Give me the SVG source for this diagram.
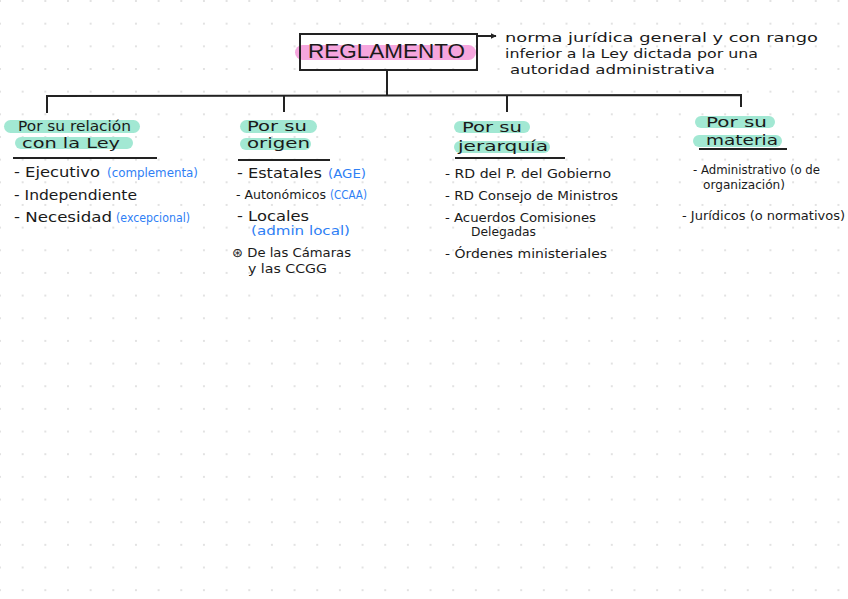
<svg xmlns="http://www.w3.org/2000/svg" width="848" height="599" viewBox="0 0 848 599">
<defs>
<pattern id="dots" x="0" y="1" width="22.66" height="22.66" patternUnits="userSpaceOnUse">
<circle cx="0" cy="0" r="1" fill="#d9d9d9"/>
<circle cx="22.66" cy="0" r="1" fill="#d9d9d9"/>
<circle cx="0" cy="22.66" r="1" fill="#d9d9d9"/>
<circle cx="22.66" cy="22.66" r="1" fill="#d9d9d9"/>
</pattern>
<marker id="arr" viewBox="0 0 10 10" refX="9" refY="5" markerWidth="6" markerHeight="6" orient="auto" markerUnits="userSpaceOnUse">
<path d="M0,0 L10,5 L0,10 z" fill="#222"/>
</marker>
<style>
text{font-family:"DejaVu Sans","Liberation Sans",sans-serif;fill:#1a1a1a}
.t{font-size:21px;font-family:"Liberation Sans",Arial,sans-serif}
.n{font-size:13px}
.h{font-size:14px}
.i{font-size:14px}
.s{font-size:12.5px}
.b{fill:#2f80f5}
.hl{fill:#a2e8d3}
.ln{stroke:#222;stroke-width:2;fill:none}
</style>
</defs>
<rect width="848" height="599" fill="#ffffff"/>
<rect width="848" height="599" fill="url(#dots)"/>

<g id="connectors">
<line class="ln" x1="387" y1="70" x2="387" y2="95"/>
<polyline class="ln" points="47,113 47,96 741,95 741,107"/>
<line class="ln" x1="284" y1="95" x2="284" y2="112"/>
<line class="ln" x1="507" y1="95" x2="507" y2="112"/>
<line class="ln" x1="477" y1="36" x2="496" y2="36" marker-end="url(#arr)"/>
</g>

<g id="reglamento">
<rect x="295" y="45" width="181" height="15" rx="7.5" fill="#f6a6de"/>
<rect x="300" y="34" width="177" height="36" fill="none" stroke="#222" stroke-width="2"/>
<text class="t" x="308" y="58" textLength="157" lengthAdjust="spacingAndGlyphs">REGLAMENTO</text>
</g>

<g id="definicion">
<text class="n" x="505" y="42" textLength="313" lengthAdjust="spacingAndGlyphs">norma jurídica general y con rango</text>
<text class="n" x="505" y="58" textLength="253" lengthAdjust="spacingAndGlyphs">inferior a la Ley dictada por una</text>
<text class="n" x="510" y="74" textLength="205" lengthAdjust="spacingAndGlyphs">autoridad administrativa</text>
</g>

<g id="relacion-ley">
<rect class="hl" x="4" y="120" width="136" height="13" rx="6.5"/>
<rect class="hl" x="15" y="137" width="118" height="12" rx="6"/>
<line class="ln" x1="13" y1="158" x2="157" y2="158"/>
<text class="h" x="18" y="131" textLength="113" lengthAdjust="spacingAndGlyphs">Por su relación</text>
<text class="h" x="22" y="148" textLength="98" lengthAdjust="spacingAndGlyphs">con la Ley</text>
<text class="i" x="14" y="177" textLength="86" lengthAdjust="spacingAndGlyphs">- Ejecutivo</text>
<text class="s b" x="107" y="177" textLength="91" lengthAdjust="spacingAndGlyphs">(complementa)</text>
<text class="i" x="14" y="200" textLength="123" lengthAdjust="spacingAndGlyphs">- Independiente</text>
<text class="i" x="14" y="222" textLength="98" lengthAdjust="spacingAndGlyphs">- Necesidad</text>
<text class="s b" x="116" y="222" textLength="74" lengthAdjust="spacingAndGlyphs">(excepcional)</text>
</g>

<g id="origen">
<rect class="hl" x="240" y="120" width="77" height="13" rx="6.5"/>
<rect class="hl" x="240" y="138" width="71" height="12" rx="6"/>
<line class="ln" x1="238" y1="160" x2="330" y2="160"/>
<text class="h" x="247" y="131" textLength="60" lengthAdjust="spacingAndGlyphs">Por su</text>
<text class="h" x="247" y="148" textLength="63" lengthAdjust="spacingAndGlyphs">origen</text>
<text class="i" x="237" y="178" textLength="85" lengthAdjust="spacingAndGlyphs">- Estatales</text>
<text class="s b" x="328" y="178" textLength="38" lengthAdjust="spacingAndGlyphs">(AGE)</text>
<text class="s" x="236" y="199" textLength="90" lengthAdjust="spacingAndGlyphs">- Autonómicos</text>
<text class="s b" x="330" y="199" textLength="37" lengthAdjust="spacingAndGlyphs">(CCAA)</text>
<text class="i" x="237" y="221" textLength="72" lengthAdjust="spacingAndGlyphs">- Locales</text>
<text class="s b" x="251" y="235" textLength="99" lengthAdjust="spacingAndGlyphs">(admin local)</text>
<text class="s" x="232" y="257" textLength="119" lengthAdjust="spacingAndGlyphs">⊛ De las Cámaras</text>
<text class="s" x="248" y="273" textLength="79" lengthAdjust="spacingAndGlyphs">y las CCGG</text>
</g>

<g id="jerarquia">
<rect class="hl" x="454" y="121" width="76" height="12" rx="6"/>
<rect class="hl" x="454" y="141" width="96" height="12" rx="6"/>
<line class="ln" x1="455" y1="158" x2="565" y2="158"/>
<text class="h" x="462" y="132" textLength="60" lengthAdjust="spacingAndGlyphs">Por su</text>
<text class="h" x="458" y="151" textLength="90" lengthAdjust="spacingAndGlyphs">jerarquía</text>
<text class="s" x="445" y="178" textLength="166" lengthAdjust="spacingAndGlyphs">- RD del P. del Gobierno</text>
<text class="s" x="445" y="200" textLength="173" lengthAdjust="spacingAndGlyphs">- RD Consejo de Ministros</text>
<text class="s" x="445" y="222" textLength="151" lengthAdjust="spacingAndGlyphs">- Acuerdos Comisiones</text>
<text class="s" x="471" y="236" textLength="65" lengthAdjust="spacingAndGlyphs">Delegadas</text>
<text class="s" x="445" y="258" textLength="162" lengthAdjust="spacingAndGlyphs">- Órdenes ministeriales</text>
</g>

<g id="materia">
<rect class="hl" x="695" y="116" width="80" height="12" rx="6"/>
<rect class="hl" x="693" y="135" width="89" height="12" rx="6"/>
<line class="ln" x1="699" y1="149" x2="787" y2="149"/>
<text class="h" x="706" y="127" textLength="61" lengthAdjust="spacingAndGlyphs">Por su</text>
<text class="h" x="706" y="145" textLength="72" lengthAdjust="spacingAndGlyphs">materia</text>
<text class="s" x="693" y="174" textLength="127" lengthAdjust="spacingAndGlyphs">- Administrativo (o de</text>
<text class="s" x="703" y="189" textLength="82" lengthAdjust="spacingAndGlyphs">organización)</text>
<text class="s" x="682" y="220" textLength="163" lengthAdjust="spacingAndGlyphs">- Jurídicos (o normativos)</text>
</g>
</svg>
